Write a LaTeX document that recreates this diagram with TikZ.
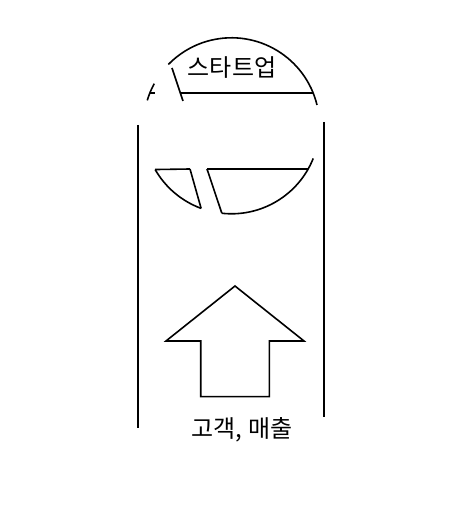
\documentclass[tikz,border=0pt]{standalone}
\usepackage{fontspec}
\newfontfamily\kofont{Noto Sans CJK KR}
\usetikzlibrary{calc}

\begin{document}
\begin{tikzpicture}[x=1pt, y=1pt, line width=1.6pt, line join=miter,
    klabel/.style={font=\kofont\fontsize{24}{28}\selectfont, inner sep=0pt}]
\useasboundingbox (0,0) rectangle (470,506);

% Circle centre
\coordinate (C) at (231.5,380.2);

% Upper part of the circle
\draw (C) ++(13.7:88) arc[start angle=13.7, end angle=135.8, radius=88];
\draw (C) ++(151.4:88) arc[start angle=151.4, end angle=163.2, radius=88];

% Lower part of the circle, split by the crack
\draw (C) ++(209.8:88) coordinate (lowL) arc[start angle=209.8, end angle=249.8, radius=88] coordinate (crackA);
\draw (C) ++(263.7:88) coordinate (crackB) arc[start angle=263.7, end angle=338.2, radius=88];

% Chords
\draw (149.8,413) -- (155,413);
\draw (180,413) -- (313.2,413);
\draw (lowL) -- (190,337) coordinate (crackD);
\draw (207,337) coordinate (crackC) -- (308.2,337);

% Crack lines
\draw (172,438) -- (183,405);
\draw (crackD) -- (crackA);
\draw (crackC) -- (crackB);

% Side lines
\draw (138,381) -- (138,78);
\draw (324,384) -- (324,89);

% Up arrow
\draw (235,220) -- (304,165) -- (269.3,165) -- (269.3,109.3)
    -- (200.7,109.3) -- (200.7,165) -- (166,165) -- cycle;

% Labels
\node[klabel] (startup) at (232,438) {스타트업};
\node[klabel] (revenue) at (242,76) {고객, 매출};

\end{tikzpicture}
\end{document}
